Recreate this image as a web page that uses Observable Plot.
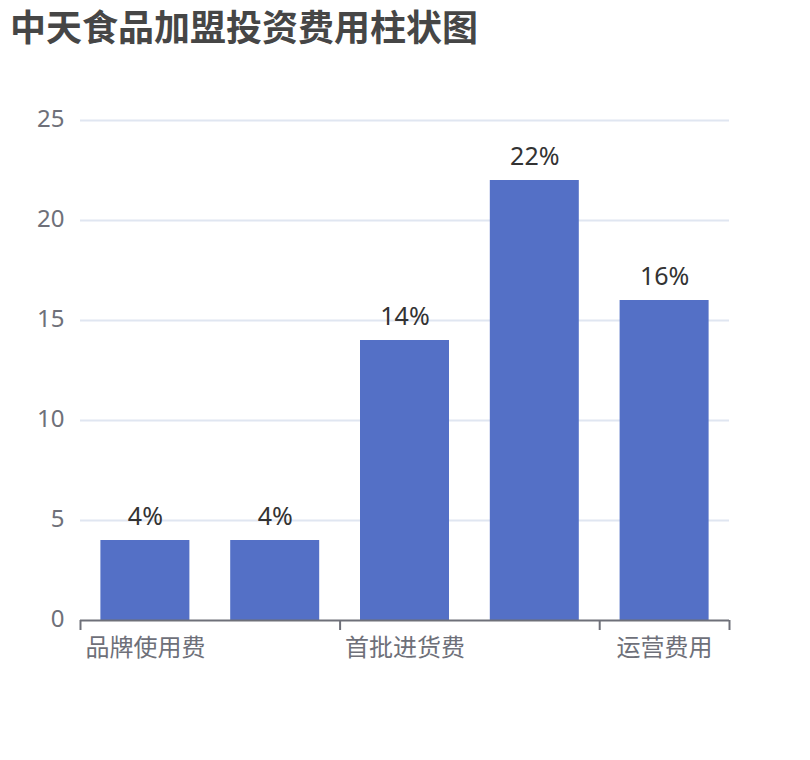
<!DOCTYPE html>
<html>
<head>
<meta charset="utf-8">
<script src="https://cdn.jsdelivr.net/npm/d3@7"></script>
<script src="https://cdn.jsdelivr.net/npm/@observablehq/plot@0.6"></script>
<style>
  html, body { margin: 0; padding: 0; background: #fff; }
  #title {
    height: 50px; line-height: 50px; padding-left: 10px;
    font-family: "Noto Sans CJK SC", "Noto Sans", sans-serif;
    font-size: 36px; font-weight: bold; color: #464646;
  }
</style>
</head>
<body>
<div id="title">中天食品加盟投资费用柱状图</div>
<div id="chart"></div>
<script>
const categories = ["品牌使用费", "加盟费", "首批进货费", "店面装修费", "运营费用"];
const values = [4, 4, 14, 22, 16];
const valueLabels = ["4%", "4%", "14%", "22%", "16%"];
const yTicks = [0, 5, 10, 15, 20, 25];
const labelInterval = 2;

const data = categories.map((c, i) => ({ category: c, i, value: values[i], label: valueLabels[i] }));
const boundaries = d3.range(0, categories.length + 1).filter(b => b % labelInterval === 0 || b === categories.length);

const font = '"Noto Sans", "Noto Sans CJK SC", sans-serif';

const chart = Plot.plot({
  width: 810,
  height: 710,
  marginTop: 70,
  marginBottom: 140,
  marginLeft: 80,
  marginRight: 81,
  style: { fontFamily: font, background: "#fff", overflow: "visible" },
  x: { type: "linear", domain: [0, categories.length], axis: null },
  y: { domain: [0, 25], axis: null },
  marks: [
    Plot.ruleY(yTicks.filter(t => t > 0), { stroke: "#e0e6f1", strokeWidth: 2 }),
    Plot.rectY(data, {
      x1: d => d.i, x2: d => d.i + 1, y: "value",
      insetLeft: 20.4, insetRight: 20.4, fill: "#5470c6"
    }),
    Plot.ruleY([0], { stroke: "#6e7079", strokeWidth: 2 }),
    Plot.ruleX(boundaries, { y1: 0, y2: -0.5, stroke: "#6e7079", strokeWidth: 2 }),
    Plot.text(data.filter(d => d.i % labelInterval === 0), {
      x: d => d.i + 0.5, y: 0, text: "category", dy: 28,
      fill: "#6e7079", fontSize: 24, lineAnchor: "middle"
    }),
    Plot.text(yTicks, {
      x: 0, y: d => d, text: d => String(d), dx: -16, dy: -1, textAnchor: "end",
      fill: "#6e7079", fontSize: 24, lineAnchor: "middle"
    }),
    Plot.text(data, {
      x: d => d.i + 0.5, y: "value", text: "label", dy: -16,
      lineAnchor: "bottom", fill: "#333", fontSize: 25
    })
  ]
});
document.getElementById("chart").appendChild(chart);
</script>
</body>
</html>
